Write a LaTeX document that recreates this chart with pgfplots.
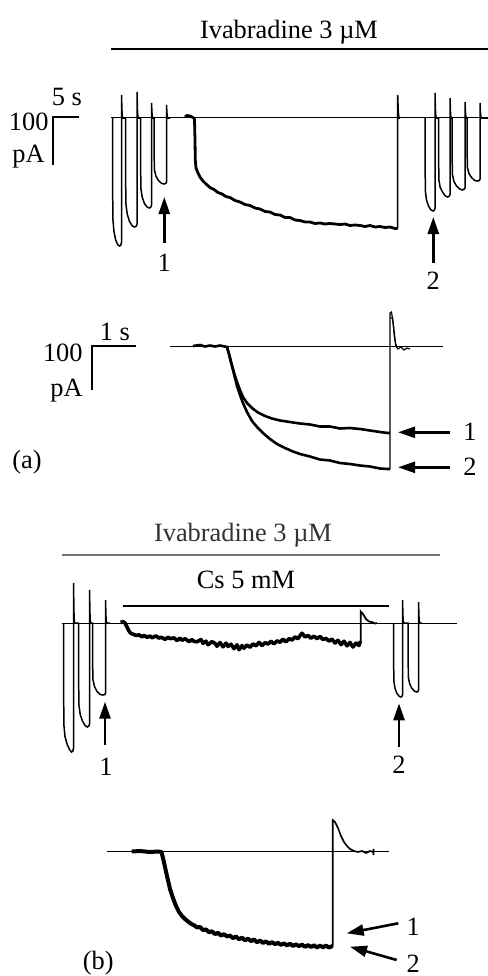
\documentclass[border=0pt]{standalone}
\usepackage{pgfplots}
\pgfplotsset{compat=1.18}
\usepackage{fontspec}
\setmainfont{Liberation Serif}
\usetikzlibrary{arrows.meta}
\tikzset{lbl/.style={font=\fontsize{13.2}{15}\selectfont, inner sep=0pt},
  arr/.style={black, line width=1.3pt, -{Triangle[length=8.5pt,width=5.5pt]}}}
\begin{document}
\begin{tikzpicture}
\begin{axis}[scale only axis, width=244pt, height=488pt,
  xmin=0, xmax=488, ymin=0, ymax=976, y dir=reverse,
  axis lines=none, clip=false]
% ---------- panel (a), top ----------
\addplot[black, line width=1.1pt] coordinates {(111,49.3) (488,49.3)};
\node[lbl] at (axis cs:289,32) {Ivabradine 3 µM};
% reference line
\addplot[black, line width=0.5pt] coordinates {(111,117.5) (488,117.5)};
% scale bar
\addplot[black, line width=1.2pt] coordinates {(79,117) (53,117) (53,165)};
\node[lbl] at (axis cs:67,97) {5 s};
\node[lbl, anchor=east] at (axis cs:49,122) {100};
\node[lbl, anchor=east] at (axis cs:45,157) {pA};
% left pulses
\addplot[black, line width=0.75pt] coordinates {
(112.5,118) (112.8,218) (113.9,231) (115.7,240) (117.9,245) (119.7,246) (120.9,245) (121.5,242) (121.5,95) (122.1,114) (122.7,118) (125.5,118)
(125.8,203) (127.2,214) (129.5,221.5) (132.4,226) (134.7,227) (136.4,226) (137,224) (137,92) (137.6,114) (138.2,118) (140.5,118)
(140.8,188) (142.2,197) (144.4,203.5) (147.1,207) (149.3,208) (150.9,207) (151.5,205) (151.5,103) (152.1,115) (152.7,118) (154,118)
(154.3,169.5) (155.9,176) (158.4,180.5) (161.5,183.3) (164,184) (165.9,183.3) (166.5,182) (166.5,105) (167.1,115) (167.7,118) (170,118)};
% right pulses
\addplot[black, line width=0.75pt] coordinates {
(425,118) (425.3,190.5) (426.5,200) (428.5,206) (431,210) (433,211) (434.4,210) (435,208) (435,93) (435.6,114) (436.2,118) (438.5,118)
(438.8,179.5) (440.2,187.5) (442.5,192) (445.4,196) (447.7,197) (449.4,196) (450,194.5) (450,98) (450.6,115) (451.2,118) (452,118)
(452.3,174) (454,181.5) (456.5,186) (459.8,189) (462.4,190) (464.4,189) (465,188) (465,102) (465.6,115) (466.2,118) (467,118)
(467.3,167) (469,173.5) (471.5,177.5) (474.8,180.5) (477.4,181) (479.4,180.5) (480,179) (480,103) (480.6,115) (481.2,118) (488,118)};
% long step
\addplot[black, line width=1.4pt] coordinates {
(185,117) (187,115.5) (190,116) (193,117.5) (194.5,119) (195,140) (195.3,160) (196,168) (198,173) (200,177) (203,181) (206,184) (210,187.5) (214,189.5) (218,192.5) (222,194) (226,196.5) (230,197.5) (235,200.5) (240,202) (245,204.5) (250,205.5) (255,208) (260,209) (265,211.5) (270,212) (275,214.5) (280,215) (285,217.5) (290,217.5) (295,220) (300,220.5) (305,222) (310,222) (315,223.5) (320,223) (325,224) (330,223.5) (335,224) (340,224.5) (345,224) (350,225.5) (355,225) (360,225.5) (365,226.5) (370,225.5) (375,227) (380,226.5) (385,227.5) (390,227) (395,228.5) (397.5,228.5)};
\addplot[black, line width=0.75pt] coordinates {(397.7,228.5) (397.7,95) (398.3,112) (399,118) (400,118)};
% arrows
\addplot[arr] coordinates {(164.3,243) (164.3,197)};
\node[lbl] at (axis cs:164.3,263) {1};
\addplot[arr] coordinates {(433.3,263) (433.3,217)};
\node[lbl] at (axis cs:433.3,281) {2};
% ---------- panel (a), expanded ----------
\addplot[black, line width=1.2pt] coordinates {(136,346) (91.7,346) (91.7,390)};
\node[lbl] at (axis cs:115,332) {1 s};
\node[lbl, anchor=east] at (axis cs:83,353) {100};
\node[lbl, anchor=east] at (axis cs:83,391) {pA};
\node[lbl] at (axis cs:27,462) {(a)};
\addplot[black, line width=0.5pt] coordinates {(170,346.7) (443,346.7)};
\addplot[black, line width=1.3pt] coordinates {
(193,346) (200,345) (205,346.5) (210,345.5) (215,346.5) (220,345.5) (227,347) (229,354) (231,362) (233,369) (235,376) (237,382) (240,390) (243,397) (247,403) (252,408) (258,412.5) (265,416) (272,418.5) (280,420.5) (290,422) (300,423.5) (310,424.5) (320,426.5) (330,426.5) (340,428.5) (350,428) (360,429) (370,430.5) (380,432) (388,433) (390,433)};
\addplot[black, line width=1.3pt] coordinates {
(227,347) (229,354) (231,362) (233,370) (235,378) (237,386) (240,395) (243,403) (247,412) (252,421) (257,427) (263,433) (270,439) (277,444) (285,448) (293,451.5) (300,454) (310,456.5) (320,459.5) (330,460.5) (340,463) (350,464) (360,465.5) (370,466.5) (380,468.5) (388,469) (390,469)};
\addplot[black, line width=0.6pt] coordinates {(390,469) (390,313) (391.5,312) (393,322) (394.5,338) (396,346) (398,349) (401,347) (404,350) (407,348) (410,349)};
\addplot[black, line width=0.6pt] coordinates {(390.5,318) (392.5,318) (394,330) (395.5,343) (397,348)};
\addplot[arr] coordinates {(450,432.3) (398,432.3)};
\node[lbl] at (axis cs:470,432) {1};
\addplot[arr] coordinates {(450,467.3) (398,467.3)};
\node[lbl] at (axis cs:470,467) {2};
% ---------- panel (b), top ----------
\node[lbl, text=black!80] at (axis cs:243,535) {Ivabradine 3 µM};
\addplot[black!55, line width=1pt] coordinates {(61.7,555) (440,555)};
\node[lbl] at (axis cs:246,580) {Cs 5 mM};
\addplot[black, line width=1.2pt] coordinates {(122.7,606) (389.3,606)};
\addplot[black, line width=0.5pt] coordinates {(61.7,623.3) (456.7,623.3)};
% left pulses
\addplot[black, line width=0.75pt] coordinates {
(63.5,623) (63.8,724) (65,736.5) (67,744) (69.5,749.5) (71.5,752) (72.9,751) (73.5,748) (73.5,583) (74.1,619) (74.7,623) (78.5,623)
(78.8,704) (80.2,714.5) (82.4,721) (85.1,725.5) (87.3,727) (88.9,726) (89.5,724) (89.5,590) (90.1,619) (90.7,623) (92.5,623)
(92.8,679) (94.5,686.5) (97,691.5) (100.3,694.5) (102.9,695) (104.9,694.5) (105.5,693) (105.5,600) (106.1,620) (106.7,623) (110,623)};
% right pulses
\addplot[black, line width=0.75pt] coordinates {
(393.5,623) (393.8,680.5) (394.9,688) (396.7,693) (398.9,696) (400.7,697) (401.9,696.5) (402.5,695) (402.5,600) (403.1,620) (403.7,623) (408,623)
(408.3,677) (409.6,683.5) (411.7,688) (414.3,691) (416.4,692) (417.9,691.5) (418.5,690) (418.5,602) (419.1,620) (419.7,623) (422,623)};
% Cs trace
\addplot[black, line width=1.8pt, line join=round] coordinates {
(120.7,622.5) (123,621.5) (125,623) (127,627) (129,631) (131,633.5) (134,634.5) (136,635.5) (139,634.8) (142,636.9) (144,635.2) (147,637.4) (150,636) (152,637.8) (156,635.9) (159,638.2) (161,637.1) (165,639.4) (168,637.2) (170,638.6) (174,637.9) (177,640.5) (180,638.1) (182,640.3) (185,638.6) (189,641.7) (192,639.6) (194,641.4) (197,641.8) (201,639.5) (203,643.2) (206,641.2) (208,644.7) (212,641.6) (215,643.4) (217,646.2) (220,642.5) (223,646.8) (226,643.1) (228,646.4) (231,644.2) (234,648.6) (237,644.8) (239,649.7) (242,645.6) (244,648.2) (247,644.9) (250,647.3) (253,643.9) (256,645.8) (259,642.4) (262,645.5) (265,642.6) (268,644.1) (271,641.2) (274,643.9) (277,640.8) (280,642.3) (283,639.2) (286,641.9) (289,638.6) (292,640.1) (295,636.9) (298,638.7) (300,635.6) (302,633.2) (305,636.9) (308,635.4) (311,638.2) (314,636.2) (317,638.6) (320,636.5) (323,639.5) (326,638.4) (329,641.1) (332,639.1) (335,643) (338,640.3) (341,644.6) (344,641.2) (347,645.8) (350,642.4) (353,647) (356,643.1) (359,645.5) (360.5,641)};
\addplot[black, line width=0.9pt] coordinates {(360.7,641) (360.7,611.5) (363,614) (366,619) (369,621.5) (372,622) (375,623.5) (377,623)};
\addplot[arr] coordinates {(105,745) (105,701.7)};
\node[lbl] at (axis cs:106,767) {1};
\addplot[arr] coordinates {(399,746.7) (399,703.3)};
\node[lbl] at (axis cs:399,765) {2};
% ---------- panel (b), expanded ----------
\addplot[black, line width=0.5pt] coordinates {(106.7,851.7) (389.3,851.7)};
\addplot[black, line width=2pt, line join=round] coordinates {
(131.7,851.5) (140,851) (150,852) (158,851.5) (161.5,852) (163,858) (165,867) (167,876) (170,889) (173,898) (176,906) (179,912) (182,916) (185,919) (188,921.5) (191,923.8) (194,925.2) (197,927.4) (200,927) (203,930.1) (206,929.4) (209,932.2) (212,931.3) (215,934.1) (218,932.8) (221,935.6) (224,934.2) (227,936.4) (230,935.6) (233,938.1) (236,936.5) (239,939.2) (242,937.6) (245,940.3) (248,938.7) (251,941.1) (254,939.5) (257,942.2) (260,940.6) (263,942.9) (266,941.4) (269,943.7) (272,942.2) (275,944.1) (278,942.9) (281,944.8) (284,943.4) (287,945.3) (290,943.8) (293,945.9) (296,944.4) (299,946.1) (302,944.6) (305,946.8) (308,945.1) (311,947) (314,945.3) (317,947.4) (320,945.6) (323,947.3) (326,945.6) (329,947.5) (332.5,946)};
\addplot[black, line width=0.8pt] coordinates {(332.7,946.7) (332.7,820) (335,822) (338,828) (341,836) (344,842) (347,846) (350,849) (354,851) (358,852) (362,851) (366,853) (370,851) (373,852) (373.5,849) (373.5,855)};
\addplot[arr] coordinates {(398.3,923.3) (346.7,933.3)};
\node[lbl] at (axis cs:413.3,926.7) {1};
\addplot[arr] coordinates {(396.7,960) (350,946.7)};
\node[lbl] at (axis cs:413.3,963.3) {2};
\node[lbl] at (axis cs:98.3,963) {(b)};
\end{axis}
\pgfresetboundingbox
\path (current axis.south west) rectangle (current axis.north east);
\end{tikzpicture}
\end{document}
